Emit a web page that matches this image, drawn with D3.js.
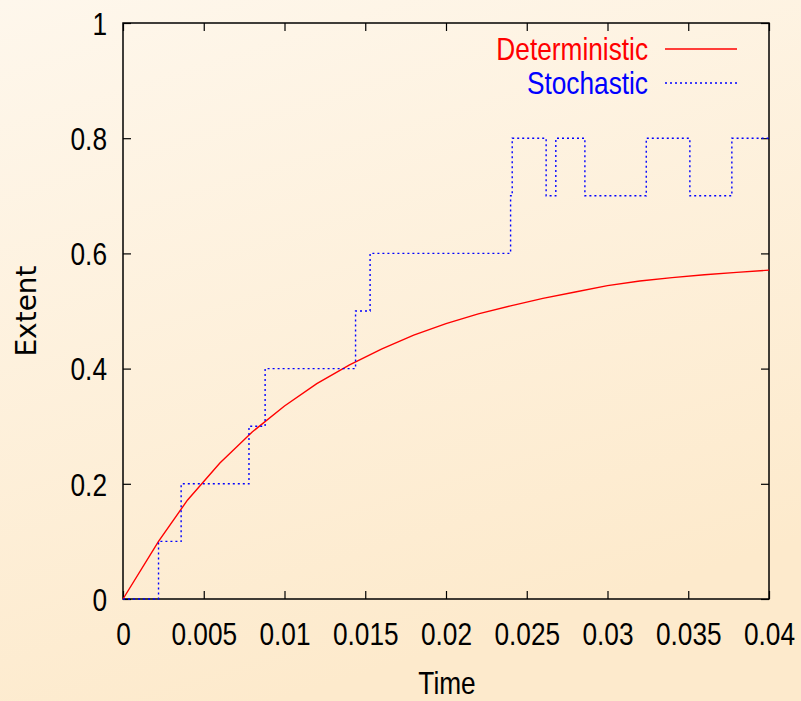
<!DOCTYPE html>
<html>
<head>
<meta charset="utf-8">
<script src="https://cdn.jsdelivr.net/npm/d3@7"></script>
<style>
  body { margin: 0; }
  svg { display: block; }
  text { font-family: "Liberation Sans", Arial, sans-serif; }
</style>
</head>
<body>
<div id="box"></div>
<script>
// data
const detTime = [0, 0.0022, 0.004, 0.006, 0.008, 0.010, 0.012, 0.014, 0.016, 0.018, 0.020,
  0.022, 0.024, 0.026, 0.028, 0.030, 0.032, 0.034, 0.036, 0.038, 0.040];
const detExtent = [0, 0.100, 0.172, 0.236, 0.290, 0.335, 0.374, 0.406, 0.434, 0.458, 0.478,
  0.495, 0.509, 0.522, 0.533, 0.544, 0.552, 0.558, 0.563, 0.567, 0.571];

// stochastic jumps: time of jump, level after it
const stoTime = [0, 0.0022, 0.0036, 0.0078, 0.0088, 0.0144, 0.0153, 0.0240, 0.0241,
  0.0262, 0.0268, 0.0286, 0.0324, 0.0351, 0.0377, 0.0400];
const stoExtent = [0, 0.1, 0.2, 0.3, 0.4, 0.5, 0.6, 0.7, 0.8,
  0.7, 0.8, 0.7, 0.8, 0.7, 0.8, 0.8];

const xTicks = [0, 0.005, 0.01, 0.015, 0.02, 0.025, 0.03, 0.035, 0.04];
const xTickLabels = ['0', '0.005', '0.01', '0.015', '0.02', '0.025', '0.03', '0.035', '0.04'];
const yTicks = [0, 0.2, 0.4, 0.6, 0.8, 1];
const yTickLabels = ['0', '0.2', '0.4', '0.6', '0.8', '1'];

const seriesNames = ['Deterministic', 'Stochastic'];
const seriesColors = ['#ff0000', '#0000ff'];

const width = 801;
const height = 701;
const padLeft = 123;
const padRight = 32;
const padTop = 23;
const padBottom = 102;
const innerWidth = width - padLeft - padRight;
const innerHeight = height - padTop - padBottom;
const fontSize = 32;
const narrow = 0.82; // no narrow font installed, squeeze glyphs instead

const svg = d3.select('#box').append('svg')
  .attr('width', width)
  .attr('height', height);

// background
const grad = svg.append('defs').append('linearGradient')
  .attr('id', 'bg')
  .attr('x1', '0').attr('y1', '0')
  .attr('x2', '0.35').attr('y2', '1');
grad.append('stop').attr('offset', '0').attr('stop-color', '#fef7ec');
grad.append('stop').attr('offset', '1').attr('stop-color', '#fdeacc');
svg.append('rect')
  .attr('width', width).attr('height', height)
  .attr('fill', 'url(#bg)');

const x = d3.scaleLinear().domain([0, 0.04]).range([0, innerWidth]);
const y = d3.scaleLinear().domain([0, 1]).range([innerHeight, 0]);

const pad = svg.append('g')
  .attr('transform', `translate(${padLeft}, ${padTop})`);

// axes, ticks pointing inwards on all four sides
const tickLen = 8;
function styleAxis(g) {
  g.select('.domain').remove();
  g.selectAll('line').attr('stroke', '#000').attr('stroke-width', 1.2);
  g.selectAll('text').attr('fill', '#000').attr('font-size', fontSize)
    .attr('class', 'squeeze');
}

pad.append('g')
  .attr('transform', `translate(0, ${innerHeight})`)
  .call(d3.axisBottom(x).tickValues(xTicks).tickSize(-tickLen)
    .tickFormat((d, i) => xTickLabels[i]))
  .call(styleAxis)
  .call(g => g.selectAll('text').attr('y', 46).attr('dy', null));

pad.append('g')
  .call(d3.axisTop(x).tickValues(xTicks).tickSize(-tickLen).tickFormat(''))
  .call(styleAxis)
  .call(g => g.selectAll('text').remove());

pad.append('g')
  .call(d3.axisLeft(y).tickValues(yTicks).tickSize(-tickLen)
    .tickFormat((d, i) => yTickLabels[i]))
  .call(styleAxis)
  .call(g => g.selectAll('text').attr('x', -16).attr('dy', '0.35em'));

pad.append('g')
  .attr('transform', `translate(${innerWidth}, 0)`)
  .call(d3.axisRight(y).tickValues(yTicks).tickSize(-tickLen).tickFormat(''))
  .call(styleAxis)
  .call(g => g.selectAll('text').remove());

// frame
pad.append('rect')
  .attr('width', innerWidth).attr('height', innerHeight)
  .attr('fill', 'none')
  .attr('stroke', '#000')
  .attr('stroke-width', 1.5);

// deterministic curve
const detLine = d3.line()
  .x((d, i) => x(detTime[i]))
  .y(d => y(d));
pad.append('path')
  .datum(detExtent)
  .attr('d', detLine)
  .attr('fill', 'none')
  .attr('stroke', seriesColors[0])
  .attr('stroke-width', 1.4);

// stochastic step curve
const stoLine = d3.line()
  .x((d, i) => x(stoTime[i]))
  .y(d => y(d))
  .curve(d3.curveStepAfter);
pad.append('path')
  .datum(stoExtent)
  .attr('d', stoLine)
  .attr('fill', 'none')
  .attr('stroke', seriesColors[1])
  .attr('stroke-width', 1.4)
  .attr('stroke-dasharray', '2,3');

// legend
const legend = svg.append('g');
seriesNames.forEach((name, i) => {
  const ly = 49 + i * 34;
  legend.append('text')
    .attr('class', 'squeeze')
    .attr('x', 648).attr('y', ly)
    .attr('dy', '0.35em')
    .attr('text-anchor', 'end')
    .attr('font-size', fontSize)
    .attr('fill', seriesColors[i])
    .text(name);
  legend.append('line')
    .attr('x1', 665).attr('x2', 737)
    .attr('y1', ly).attr('y2', ly)
    .attr('stroke', seriesColors[i])
    .attr('stroke-width', 1.4)
    .attr('stroke-dasharray', i === 1 ? '2,3' : null);
});

// axis titles
svg.append('text')
  .attr('class', 'squeeze')
  .attr('x', padLeft + innerWidth / 2 + 1)
  .attr('y', 694)
  .attr('text-anchor', 'middle')
  .attr('font-size', fontSize)
  .text('Time');

svg.append('text')
  .attr('transform', `translate(36, ${padTop + innerHeight / 2}) rotate(-90)`)
  .attr('text-anchor', 'middle')
  .style('font-family', '"DejaVu Sans", sans-serif')
  .attr('font-size', 28)
  .text('Extent');

// squeeze labels to a narrow face
svg.selectAll('text.squeeze').each(function() {
  const len = this.getComputedTextLength();
  if (len > 0) {
    d3.select(this)
      .attr('textLength', len * narrow)
      .attr('lengthAdjust', 'spacingAndGlyphs');
  }
});
</script>
</body>
</html>
